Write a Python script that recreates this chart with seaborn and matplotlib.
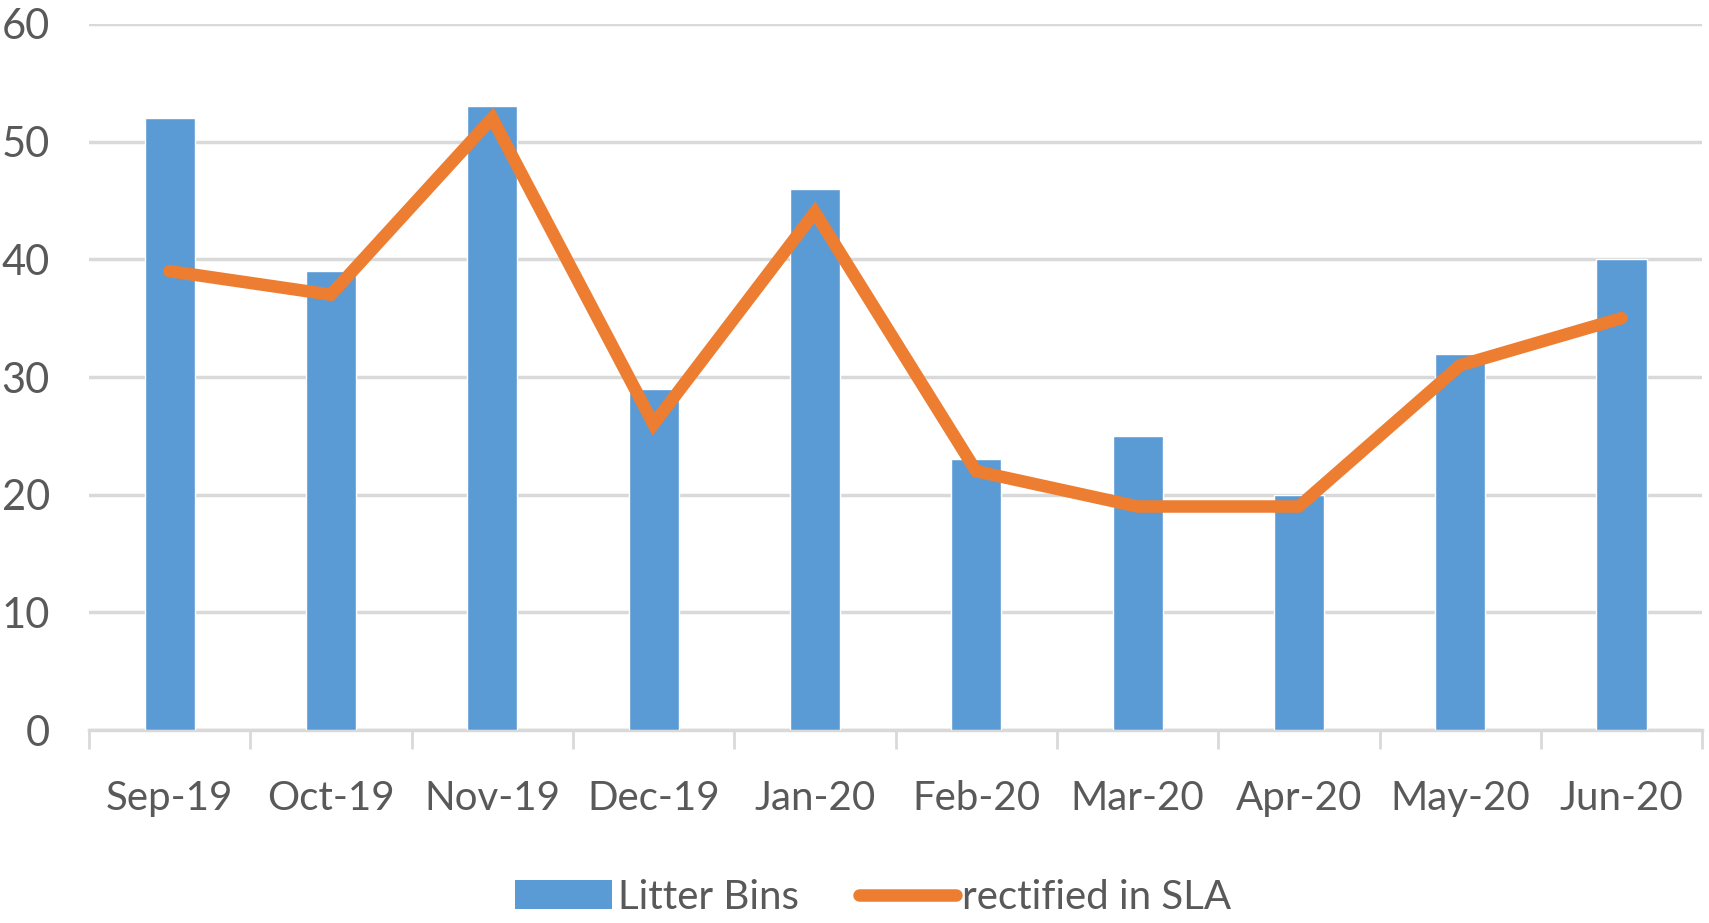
#!/usr/bin/env python3

import numpy as np
import pandas as pd
import matplotlib
matplotlib.use("Agg")
import matplotlib.pyplot as plt
import seaborn as sns
from matplotlib.patches import Patch
from matplotlib.lines import Line2D

sns.set_theme(style="white")
plt.rcParams['font.family'] = ['Lato', 'DejaVu Sans']

# chart data
months = ['Sep-19', 'Oct-19', 'Nov-19', 'Dec-19', 'Jan-20',
          'Feb-20', 'Mar-20', 'Apr-20', 'May-20', 'Jun-20']
litter_bins = [52, 39, 53, 29, 46, 23, 25, 20, 32, 40]
rectified_sla = [39, 37, 52, 26, 44, 22, 19, 19, 31, 35]
y_ticks = [0, 10, 20, 30, 40, 50, 60]

blue = '#5B9BD5'
orange = '#ED7D31'
grey_txt = '#595959'
grid_col = '#D9D9D9'

df = pd.DataFrame({'month': months, 'pos': np.arange(len(months)),
                   'bins': litter_bins, 'sla': rectified_sla})

fig = plt.figure(figsize=(17.09, 9.23), dpi=100)
ax = fig.add_axes([0.052, 0.209, 0.944, 0.765])

sns.barplot(data=df, x='month', y='bins', color=blue, width=0.31,
            saturation=1, ax=ax, zorder=2)
sns.lineplot(data=df, x='pos', y='sla', color=orange, linewidth=9,
             ax=ax, zorder=3, solid_joinstyle='miter', solid_capstyle='round')

ax.set_xlim(-0.5, len(months) - 0.5)
ax.set_ylim(0, 60)
ax.set_yticks(y_ticks)
ax.set_xlabel('')
ax.set_ylabel('')

# gridlines
ax.yaxis.grid(True, color=grid_col, linewidth=2.5, zorder=0)
ax.set_axisbelow(True)
for s in ['top', 'right', 'left']:
    ax.spines[s].set_visible(False)
ax.spines['bottom'].set_color(grid_col)
ax.spines['bottom'].set_linewidth(2.5)
ax.spines['bottom'].set_zorder(1)

# category boundary ticks
ax.set_xticks(np.arange(-0.5, len(months), 1.0), minor=True)
ax.tick_params(axis='x', which='minor', length=14, width=2, color=grid_col,
               direction='out', bottom=True)
ax.tick_params(axis='x', which='major', length=0, pad=36,
               labelsize=29, labelcolor=grey_txt)
ax.tick_params(axis='y', length=0, pad=28, labelsize=30, labelcolor=grey_txt)

handles = [Patch(facecolor=blue, edgecolor='none'),
           Line2D([0], [0], color=orange, linewidth=9, solid_capstyle='round')]
fig.legend(handles, ['Litter Bins', 'rectified in SLA'], loc='center',
           bbox_to_anchor=(0.511, 0.028), ncol=2, frameon=False,
           fontsize=29, labelcolor=grey_txt, handlelength=2.4,
           handletextpad=0.15, columnspacing=1.5)

fig.savefig('out.png', dpi=100)
